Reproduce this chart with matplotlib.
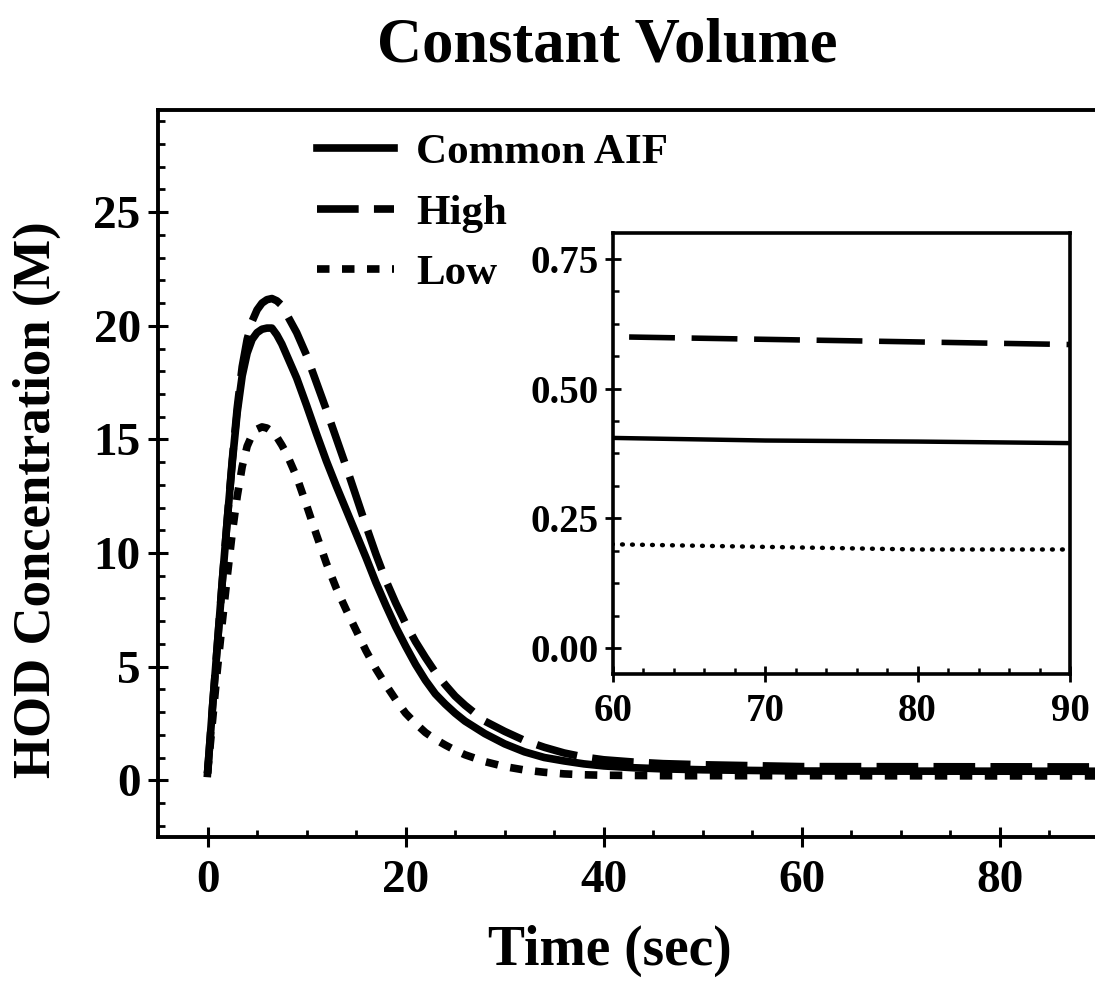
import numpy as np
import matplotlib
matplotlib.use("Agg")
import matplotlib.pyplot as plt
from matplotlib.ticker import MultipleLocator

plt.rcParams['font.family'] = ['Liberation Serif', 'DejaVu Serif']
plt.rcParams['font.weight'] = 'bold'
plt.rcParams['lines.scale_dashes'] = False

# time (sec) and HOD concentration (M)
t = [0, 0.5, 1, 1.5, 2, 2.5, 3, 3.5, 4, 4.5, 5, 5.5, 6, 6.5, 7, 7.5, 8, 9, 10,
     11, 12, 13, 14, 15, 16, 17, 18, 19, 20, 21, 22, 23, 24, 25, 26, 28, 30,
     32, 34, 36, 38, 40, 43, 46, 50, 55, 60, 70, 80, 90, 95]

common = [0.3, 3.2, 6.0, 8.8, 11.5, 14.0, 16.2, 17.8, 18.8, 19.4, 19.7, 19.85,
          19.9, 19.9, 19.6, 19.2, 18.7, 17.7, 16.5, 15.25, 14.05, 12.95, 11.9,
          10.85, 9.8, 8.7, 7.7, 6.75, 5.9, 5.1, 4.4, 3.8, 3.35, 2.95, 2.6,
          2.05, 1.6, 1.25, 1.0, 0.85, 0.72, 0.63, 0.55, 0.5, 0.46, 0.43, 0.405,
          0.40, 0.398, 0.395, 0.395]

high = [0.3, 3.2, 6.0, 8.8, 11.5, 14.1, 16.4, 18.2, 19.4, 20.2, 20.7, 21.0,
        21.15, 21.2, 21.1, 20.9, 20.5, 19.7, 18.7, 17.5, 16.3, 15.05, 13.8,
        12.5, 11.2, 9.95, 8.8, 7.8, 6.9, 6.1, 5.4, 4.75, 4.2, 3.7, 3.3, 2.6,
        2.15, 1.75, 1.45, 1.2, 1.02, 0.9, 0.8, 0.73, 0.68, 0.64, 0.60, 0.595,
        0.59, 0.585, 0.585]

low = [0.3, 2.6, 4.9, 7.0, 9.0, 10.9, 12.5, 13.8, 14.7, 15.2, 15.45, 15.55,
       15.5, 15.35, 15.1, 14.75, 14.35, 13.35, 12.1, 10.8, 9.55, 8.45, 7.5,
       6.6, 5.7, 4.9, 4.2, 3.55, 2.95, 2.5, 2.1, 1.8, 1.55, 1.32, 1.12, 0.82,
       0.6, 0.45, 0.35, 0.28, 0.24, 0.22, 0.21, 0.2, 0.2, 0.2, 0.2, 0.195,
       0.19, 0.19, 0.19]

labels = ['Common AIF', 'High', 'Low']
main_styles = ['-', (0, (30, 11)), (0, (9, 9))]
inset_styles = ['-', (0, (33, 12)), (0, (0.6, 6.6))]

fig = plt.figure(figsize=(10.95, 9.88), dpi=100)
ax = fig.add_axes([0.1443, 0.1528, 0.9045, 0.7359])

for y, ls, lab in zip([common, high, low], main_styles, labels):
    ax.plot(t, y, color='black', lw=5.5, linestyle=ls, label=lab)

ax.set_xlim(-5, 95)
ax.set_ylim(-2.5, 29.5)
ax.xaxis.set_major_locator(MultipleLocator(20))
ax.xaxis.set_minor_locator(MultipleLocator(5))
ax.yaxis.set_major_locator(MultipleLocator(5))
ax.yaxis.set_minor_locator(MultipleLocator(1))
ax.tick_params(which='major', direction='inout', length=15, width=2.2,
               labelsize=34, pad=5)
ax.tick_params(axis='x', which='major', pad=9)
ax.tick_params(which='minor', direction='in', length=5, width=2)
for s in ax.spines.values():
    s.set_linewidth(2.8)

ax.legend(loc='upper left', bbox_to_anchor=(0.13, 1.01), frameon=False,
          fontsize=31, handlelength=1.8, handletextpad=0.5, labelspacing=0.5,
          borderaxespad=0.3)

fig.text(0.555, 0.953, 'Constant Volume', ha='center', va='center',
         fontsize=45, fontweight='bold')
fig.text(0.557, 0.038, 'Time (sec)', ha='center', va='center',
         fontsize=40, fontweight='bold')
fig.text(0.034, 0.494, 'HOD Concentration (M)', ha='center', va='center',
         rotation=90, fontsize=38, fontweight='bold')

# inset: tail of the same curves
ins = fig.add_axes([0.5598, 0.3178, 0.4174, 0.4464])
for y, ls, lw in zip([common, high, low], inset_styles, [3.2, 4, 3.2]):
    ins.plot(t, y, color='black', lw=lw, linestyle=ls,
             dash_capstyle='round' if lw != 4 else 'butt')
ins.set_xlim(60, 90)
ins.set_ylim(-0.05, 0.8)
ins.xaxis.set_major_locator(MultipleLocator(10))
ins.xaxis.set_minor_locator(MultipleLocator(2))
ins.yaxis.set_major_locator(MultipleLocator(0.25))
ins.yaxis.set_minor_locator(MultipleLocator(0.0625))
ins.yaxis.set_major_formatter(plt.FuncFormatter(lambda v, p: f'{v:.2f}'))
ins.tick_params(which='major', direction='inout', length=12, width=2,
                labelsize=28, pad=4)
ins.tick_params(axis='x', which='major', pad=8)
ins.tick_params(which='minor', direction='in', length=4, width=1.8)
for s in ins.spines.values():
    s.set_linewidth(2.6)

fig.savefig('out.png', dpi=100)
